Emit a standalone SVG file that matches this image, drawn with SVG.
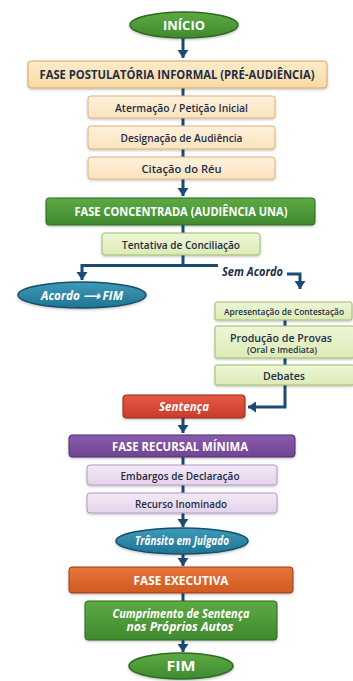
<svg xmlns="http://www.w3.org/2000/svg" width="353" height="681" viewBox="0 0 353 681">
<defs>
<linearGradient id="gGreen" x1="0" y1="0" x2="0" y2="1"><stop offset="0" stop-color="#5daa45"/><stop offset="1" stop-color="#3f8a2e"/></linearGradient>
<linearGradient id="gPeach" x1="0" y1="0" x2="0" y2="1"><stop offset="0" stop-color="#fdebc9"/><stop offset="1" stop-color="#f8d9a3"/></linearGradient>
<linearGradient id="gPeachL" x1="0" y1="0" x2="0" y2="1"><stop offset="0" stop-color="#fef1dc"/><stop offset="1" stop-color="#fbe3bd"/></linearGradient>
<linearGradient id="gLGreen" x1="0" y1="0" x2="0" y2="1"><stop offset="0" stop-color="#eef6d6"/><stop offset="1" stop-color="#dcebb5"/></linearGradient>
<linearGradient id="gTeal" x1="0" y1="0" x2="0" y2="1"><stop offset="0" stop-color="#3d9ab8"/><stop offset="1" stop-color="#1f7494"/></linearGradient>
<linearGradient id="gRed" x1="0" y1="0" x2="0" y2="1"><stop offset="0" stop-color="#e65a45"/><stop offset="1" stop-color="#c93a2c"/></linearGradient>
<linearGradient id="gPurple" x1="0" y1="0" x2="0" y2="1"><stop offset="0" stop-color="#8a5bad"/><stop offset="1" stop-color="#6f4592"/></linearGradient>
<linearGradient id="gLav" x1="0" y1="0" x2="0" y2="1"><stop offset="0" stop-color="#f3e9f6"/><stop offset="1" stop-color="#e4d3ec"/></linearGradient>
<linearGradient id="gOrange" x1="0" y1="0" x2="0" y2="1"><stop offset="0" stop-color="#e8763a"/><stop offset="1" stop-color="#cf5a22"/></linearGradient>
<filter id="sh" x="-10%" y="-20%" width="120%" height="150%"><feDropShadow dx="0" dy="1.2" stdDeviation="1" flood-color="#000" flood-opacity="0.25"/></filter>
<marker id="ah" markerUnits="userSpaceOnUse" markerWidth="12" markerHeight="12" viewBox="0 0 12 12" refX="10" refY="6" orient="auto">
<path d="M2,0.5 L10,6 L2,11.5 Z" fill="#1d4a72"/>
</marker>
<style>
.t{font-family:"Open Sans",Lato,"Liberation Sans",sans-serif;text-anchor:middle;font-weight:600}
.b{font-weight:700}
.i{font-style:italic;font-weight:700}
.w{fill:#ffffff}
.n{fill:#1c2e48}
.c{fill:none;stroke:#1d4a72;stroke-width:3}
</style>
</defs>
<rect width="353" height="681" fill="#ffffff"/>

<g id="connectors">
<path class="c" d="M183,38 V58" marker-end="url(#ah)"/>
<path class="c" d="M183,88 V96"/>
<path class="c" d="M183,118 V126"/>
<path class="c" d="M183,149 V157"/>
<path class="c" d="M183,179 V196" marker-end="url(#ah)"/>
<path class="c" d="M183,225 V233"/>
<path class="c" d="M183,255 V265.5 H82 V280" marker-end="url(#ah)"/>
<path class="c" d="M183,265.5 H218"/>
<path class="c" d="M287,274 H300 V289" marker-end="url(#ah)"/>
<path class="c" d="M285,320 V326"/>
<path class="c" d="M285,358 V365"/>
<path class="c" d="M285,385 V407 H248" marker-end="url(#ah)"/>
<path class="c" d="M183,418 V433" marker-end="url(#ah)"/>
<path class="c" d="M183,457 V465"/>
<path class="c" d="M183,485 V493"/>
<path class="c" d="M183,513 V527" marker-end="url(#ah)"/>
<path class="c" d="M183,554 V566" marker-end="url(#ah)"/>
<path class="c" d="M183,593 V601"/>
<path class="c" d="M183,640 V652" marker-end="url(#ah)"/>
</g>

<g id="inicio">
<ellipse cx="184" cy="25" rx="54" ry="13" fill="url(#gGreen)" stroke="#2f6b24" stroke-width="1.5" filter="url(#sh)"/>
<text class="t b w" x="184" y="30" font-size="13" textLength="42" lengthAdjust="spacingAndGlyphs">INÍCIO</text>
</g>

<g id="fase-postulatoria">
<rect x="28" y="61" width="299" height="27" rx="3" fill="url(#gPeach)" stroke="#d8a867" stroke-width="1" filter="url(#sh)"/>
<text class="t b n" x="177" y="79" font-size="12" textLength="275" lengthAdjust="spacingAndGlyphs">FASE POSTULATÓRIA INFORMAL  (PRÉ-AUDIÊNCIA)</text>
</g>

<g id="atermacao">
<rect x="88" y="96" width="187" height="22" rx="3" fill="url(#gPeachL)" stroke="#dbb37c" stroke-width="1" filter="url(#sh)"/>
<text class="t n" x="181.5" y="111.5" font-size="11.5" textLength="133" lengthAdjust="spacingAndGlyphs">Atermação / Petição Inicial</text>
</g>

<g id="designacao">
<rect x="88" y="126" width="187" height="23" rx="3" fill="url(#gPeachL)" stroke="#dbb37c" stroke-width="1" filter="url(#sh)"/>
<text class="t n" x="181.5" y="142" font-size="11.5" textLength="122" lengthAdjust="spacingAndGlyphs">Designação de Audiência</text>
</g>

<g id="citacao">
<rect x="88" y="157" width="187" height="22" rx="3" fill="url(#gPeachL)" stroke="#dbb37c" stroke-width="1" filter="url(#sh)"/>
<text class="t n" x="181.5" y="172.5" font-size="11.5" textLength="80" lengthAdjust="spacingAndGlyphs">Citação do Réu</text>
</g>

<g id="fase-concentrada">
<rect x="46" y="198" width="269" height="27" rx="3" fill="url(#gGreen)" stroke="#2f6b24" stroke-width="1" filter="url(#sh)"/>
<text class="t b w" x="181" y="216" font-size="12" textLength="213" lengthAdjust="spacingAndGlyphs">FASE CONCENTRADA (AUDIÊNCIA UNA)</text>
</g>

<g id="tentativa">
<rect x="102" y="233" width="158" height="22" rx="3" fill="url(#gLGreen)" stroke="#9cbc6b" stroke-width="1" filter="url(#sh)"/>
<text class="t n" x="181" y="248.5" font-size="11.5" textLength="118" lengthAdjust="spacingAndGlyphs">Tentativa de Conciliação</text>
</g>

<g id="acordo-fim">
<ellipse cx="82" cy="295" rx="64" ry="13" fill="url(#gTeal)" stroke="#17506a" stroke-width="1.5" filter="url(#sh)"/>
<text class="t i w" x="82" y="299.5" font-size="12" textLength="82" lengthAdjust="spacingAndGlyphs">Acordo ⟶ FIM</text>
</g>

<g id="sem-acordo">
<text class="t i n" x="252.5" y="276" font-size="12" textLength="61" lengthAdjust="spacingAndGlyphs">Sem Acordo</text>
</g>

<g id="apresentacao">
<rect x="215" y="302" width="137" height="18" rx="2" fill="url(#gLGreen)" stroke="#9cbc6b" stroke-width="1" filter="url(#sh)"/>
<text class="t n" x="284" y="314.5" font-size="8.5" textLength="120" lengthAdjust="spacingAndGlyphs">Apresentação de Contestação</text>
</g>

<g id="producao">
<rect x="215" y="326" width="139" height="32" rx="2" fill="url(#gLGreen)" stroke="#9cbc6b" stroke-width="1" filter="url(#sh)"/>
<text class="t n" x="281" y="342" font-size="11.5" textLength="102" lengthAdjust="spacingAndGlyphs">Produção de Provas</text>
<text class="t n" x="282" y="353" font-size="8.5" textLength="70" lengthAdjust="spacingAndGlyphs">(Oral e Imediata)</text>
</g>

<g id="debates">
<rect x="215" y="365" width="139" height="20" rx="2" fill="url(#gLGreen)" stroke="#9cbc6b" stroke-width="1" filter="url(#sh)"/>
<text class="t n" x="284" y="379.5" font-size="11.5" textLength="42" lengthAdjust="spacingAndGlyphs">Debates</text>
</g>

<g id="sentenca">
<rect x="123" y="395" width="122" height="23" rx="3" fill="url(#gRed)" stroke="#98271c" stroke-width="1" filter="url(#sh)"/>
<text class="t i w" x="184" y="411" font-size="12" textLength="50" lengthAdjust="spacingAndGlyphs">Sentença</text>
</g>

<g id="fase-recursal">
<rect x="69" y="435" width="226" height="22" rx="3" fill="url(#gPurple)" stroke="#4f2f6c" stroke-width="1" filter="url(#sh)"/>
<text class="t b w" x="180" y="450.5" font-size="12" textLength="136" lengthAdjust="spacingAndGlyphs">FASE RECURSAL MÍNIMA</text>
</g>

<g id="embargos">
<rect x="87" y="465" width="190" height="20" rx="3" fill="url(#gLav)" stroke="#b49ac5" stroke-width="1" filter="url(#sh)"/>
<text class="t n" x="180" y="479.5" font-size="11.5" textLength="119" lengthAdjust="spacingAndGlyphs">Embargos de Declaração</text>
</g>

<g id="recurso">
<rect x="87" y="493" width="190" height="20" rx="3" fill="url(#gLav)" stroke="#b49ac5" stroke-width="1" filter="url(#sh)"/>
<text class="t n" x="181" y="507.5" font-size="11.5" textLength="92" lengthAdjust="spacingAndGlyphs">Recurso Inominado</text>
</g>

<g id="transito">
<ellipse cx="182" cy="541" rx="66" ry="13" fill="url(#gTeal)" stroke="#17506a" stroke-width="1.5" filter="url(#sh)"/>
<text class="t i w" x="182" y="545" font-size="11.5" textLength="94" lengthAdjust="spacingAndGlyphs">Trânsito em Julgado</text>
</g>

<g id="fase-executiva">
<rect x="69" y="567" width="224" height="26" rx="3" fill="url(#gOrange)" stroke="#9a3e14" stroke-width="1" filter="url(#sh)"/>
<text class="t b w" x="181" y="584.5" font-size="12" textLength="95" lengthAdjust="spacingAndGlyphs">FASE EXECUTIVA</text>
</g>

<g id="cumprimento">
<rect x="85" y="601" width="192" height="39" rx="3" fill="url(#gGreen)" stroke="#2f6b24" stroke-width="1" filter="url(#sh)"/>
<text class="t i w" x="181" y="617.5" font-size="11.5" textLength="137" lengthAdjust="spacingAndGlyphs">Cumprimento de Sentença</text>
<text class="t i w" x="180" y="631" font-size="11.5" textLength="107" lengthAdjust="spacingAndGlyphs">nos Próprios Autos</text>
</g>

<g id="fim">
<ellipse cx="181" cy="666" rx="52" ry="13" fill="url(#gGreen)" stroke="#2f6b24" stroke-width="1.5" filter="url(#sh)"/>
<text class="t b w" x="181" y="671" font-size="13.5" textLength="29" lengthAdjust="spacingAndGlyphs">FIM</text>
</g>
</svg>
